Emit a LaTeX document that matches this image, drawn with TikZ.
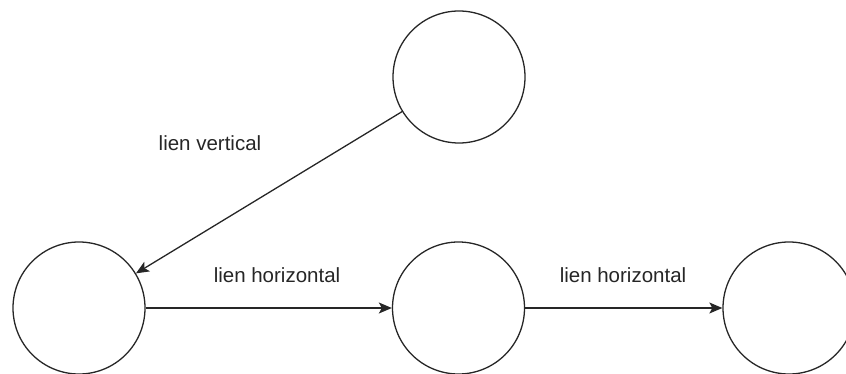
\documentclass[tikz,border=0pt]{standalone}
\usepackage{fontspec}
\setmainfont{Liberation Sans}
\usetikzlibrary{arrows.meta}
\begin{document}
\begin{tikzpicture}[x=1pt,y=-1pt,
  vertex/.style={circle,draw=black!85,line width=1.3pt,minimum size=132pt,inner sep=0pt},
  link/.style={draw=black!85,line width=1.3pt,-{Stealth[length=13pt,width=11pt,inset=3pt]}},
  linklabel/.style={font=\fontsize{20.5pt}{24pt}\selectfont,text=black!85,inner sep=0pt}]
  \useasboundingbox (0,0) rectangle (846,374);
  % nodes
  \node[vertex] (top) at (459,77) {};
  \node[vertex] (left) at (79,308) {};
  \node[vertex] (mid) at (458.5,308) {};
  \node[vertex] (right) at (789,308) {};
  % connectors
  \draw[link] (top) -- (left);
  \draw[link] (left) -- (mid);
  \draw[link] (mid) -- (right);
  % labels
  \node[linklabel] (lv) at (210,143) {lien vertical};
  \node[linklabel] (lh1) at (277,275) {lien horizontal};
  \node[linklabel] (lh2) at (623,275) {lien horizontal};
\end{tikzpicture}
\end{document}
